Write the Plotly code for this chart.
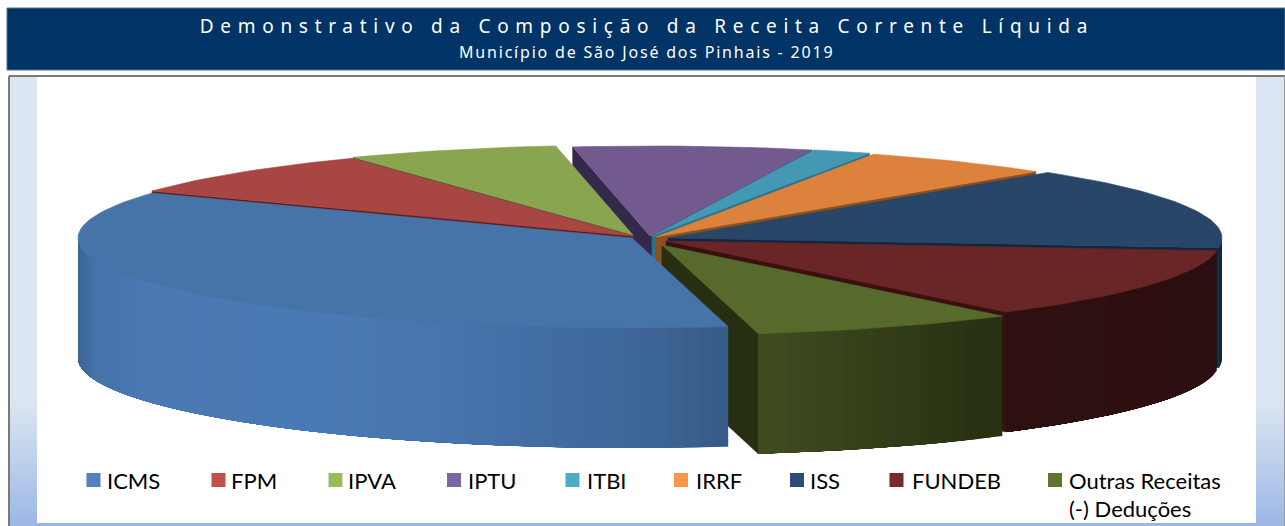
import math
import plotly.graph_objects as go

# ---- data (share of revenue, %) ----
categories = ["ICMS", "FPM", "IPVA", "IPTU", "ITBI", "IRRF", "ISS", "FUNDEB", "Outras Receitas", "(-) Deduções"]
shares = [36.1, 8.25, 6.2, 6.95, 1.7, 5.6, 14.7, 12.75, 7.75, 0.0]

title_main = "Demonstrativo da Composição da Receita Corrente Líquida"
title_sub = "Município de São José dos Pinhais - 2019"

# ---- styles ----
START_ANGLE = 170.0
RX, RY, DEPTH = 554.0, 90.0, 120.0
apex = {"ICMS": (632, 238), "FPM": (632, 236), "IPVA": (633, 235), "IPTU": (650, 236), "ITBI": (652, 236),
        "IRRF": (656, 237), "ISS": (668, 238), "FUNDEB": (666, 241), "Outras Receitas": (662, 245)}
top_col = {"ICMS": "#4673a8", "FPM": "#a84644", "IPVA": "#8aa550", "IPTU": "#735a8e", "ITBI": "#4398b3",
           "IRRF": "#dd823c", "ISS": "#274668", "FUNDEB": "#6a2626", "Outras Receitas": "#566a2b"}
edge_col = {"ICMS": "#33557f", "FPM": "#591d1b", "IPVA": "#46582a", "IPTU": "#34294a", "ITBI": "#2a7189",
            "IRRF": "#8a501e", "ISS": "#11263f", "FUNDEB": "#3a0f10", "Outras Receitas": "#262f11"}
wall_stops = {
    "ICMS": [(78, "#3c6595"), (95, "#4572a9"), (150, "#4a79b4"), (330, "#4a7ab5"), (480, "#4572aa"),
             (620, "#3f689b"), (729, "#365a86")],
    "Outras Receitas": [(758, "#404d20"), (880, "#333e19"), (1003, "#262f11")],
    "FUNDEB": [(1003, "#2e1010"), (1220, "#2c0f10")],
    "ISS": [(1200, "#11263f"), (1225, "#11263f")],
}
swatch_col = ["#4f81bd", "#c0504d", "#9bbb59", "#8064a2", "#4bacc6", "#f79646", "#2c4d75", "#772c2a", "#5f7530", None]
legend_swatch_x = [93.5, 218.5, 335.5, 454, 572.5, 681, 797, 896.5, 1055, None]
legend_text_x = [108, 232, 349, 469, 588, 697, 811, 913, 1070, 1070]
legend_y = [480, 480, 480, 480, 480, 480, 480, 480, 480, 508]
paint_order = ["IPTU", "ITBI", "IRRF", "IPVA", "FPM", "ISS", "FUNDEB", "Outras Receitas", "ICMS"]


def hex2rgb(h):
    return tuple(int(h[i:i + 2], 16) for i in (1, 3, 5))


def wall_colour(name, x):
    stops = wall_stops[name]
    if x <= stops[0][0]:
        return stops[0][1]
    for (x0, c0), (x1, c1) in zip(stops, stops[1:]):
        if x <= x1:
            t = (x - x0) / (x1 - x0)
            a, b = hex2rgb(c0), hex2rgb(c1)
            return "#%02x%02x%02x" % tuple(round(a[i] + (b[i] - a[i]) * t) for i in range(3))
    return stops[-1][1]


def rim(name, deg):
    ax, ay = apex[name]
    r = math.radians(deg)
    return ax + RX * math.sin(r), ay - RY * math.cos(r)


def poly(xs, ys, colour, lw=0.6):
    return go.Scatter(x=list(xs) + [xs[0]], y=list(ys) + [ys[0]], mode="lines", fill="toself", fillcolor=colour,
                      line=dict(color=colour, width=lw), hoverinfo="skip", showlegend=False)


# angular extents derived from the values (normalised so each slice starts below 360 degrees)
spans = {}
a = START_ANGLE
for n, v in zip(categories, shares):
    s0 = a % 360.0
    spans[n] = (s0, s0 + v * 3.6)
    a += v * 3.6

traces = []
for n in paint_order:
    s, e = spans[n]
    ax, ay = apex[n]
    # radial side walls facing the viewer
    if math.sin(math.radians(s)) < 0:
        x, y = rim(n, s)
        traces.append(poly([ax, x, x, ax], [ay, y, y + DEPTH, ay + DEPTH], edge_col[n]))
    if math.sin(math.radians(e)) > 0:
        x, y = rim(n, e)
        traces.append(poly([ax, x, x, ax], [ay, y, y + DEPTH, ay + DEPTH], edge_col[n]))
    # curved outer wall, split into shaded strips that overlap so no seams show
    lo, hi = max(s, 90.0), min(e, 270.0)
    if n in wall_stops and hi > lo:
        steps = max(2, int((hi - lo) / 1.5))
        for i in range(steps):
            d0 = lo + (hi - lo) * i / steps
            d1 = lo + (hi - lo) * (i + 1) / steps
            x_mid = rim(n, (d0 + d1) / 2)[0]
            d2 = hi  # each strip reaches the far end; later strips paint over it
            arc = [rim(n, d0 + (d2 - d0) * k / 12) for k in range(13)]
            xs = [p[0] for p in arc] + [p[0] for p in reversed(arc)]
            ys = [p[1] for p in arc] + [p[1] + DEPTH for p in reversed(arc)]
            traces.append(poly(xs, ys, wall_colour(n, x_mid), lw=0))
    # top face
    steps = max(2, int((e - s) / 1.5))
    pts = [rim(n, s + (e - s) * i / steps) for i in range(steps + 1)]
    traces.append(poly([ax] + [p[0] for p in pts], [ay] + [p[1] for p in pts], top_col[n]))

# legend swatches
sw = [(x, y, c) for x, y, c in zip(legend_swatch_x, legend_y, swatch_col) if c]
traces.append(go.Scatter(x=[p[0] for p in sw], y=[p[1] for p in sw], mode="markers",
                         marker=dict(symbol="square", size=14, color=[p[2] for p in sw], line=dict(width=0)),
                         hoverinfo="skip", showlegend=False))

fig = go.Figure(traces)

# frame, side bands and header
shapes = [
    dict(type="rect", x0=7, x1=1285, y0=8, y1=70, fillcolor="#003366", line=dict(color="#4f7396", width=1)),
    dict(type="rect", x0=9, x1=1285, y0=76, y1=526, fillcolor="#ffffff", line=dict(width=0)),
]
for x0, x1 in ((10, 37), (1256, 1284)):
    shapes.append(dict(type="rect", x0=x0, x1=x1, y0=77, y1=400, fillcolor="#dce6f2", line=dict(width=0)))
    for y in range(400, 526, 3):
        t = (y - 400) / 126
        c = tuple(round(p + (q - p) * t) for p, q in zip((0xdc, 0xe6, 0xf2), (0x9b, 0xb7, 0xe5)))
        shapes.append(dict(type="rect", x0=x0, x1=x1, y0=y, y1=y + 3, fillcolor="#%02x%02x%02x" % c, line=dict(width=0)))
shapes += [
    dict(type="rect", x0=37, x1=1256, y0=523, y1=526, fillcolor="#9bb7e5", line=dict(width=0)),
    dict(type="line", x0=9, x1=1285, y0=76, y1=76, line=dict(color="#7a7a7a", width=2)),
    dict(type="line", x0=9, x1=9, y0=76, y1=526, line=dict(color="#7a7a7a", width=2)),
    dict(type="line", x0=1284.5, x1=1284.5, y0=76, y1=526, line=dict(color="#9a9a9a", width=1)),
]
for s_ in shapes:
    s_["layer"] = "below"

annotations = [
    dict(x=646.5, y=26, text=title_main, showarrow=False, xanchor="center", yanchor="middle",
         font=dict(family="Noto Sans", size=19, color="#ffffff")),
    dict(x=646, y=52, text=title_sub, showarrow=False, xanchor="center", yanchor="middle",
         font=dict(family="Noto Sans", size=16, color="#ffffff")),
]
for n, x, y in zip(categories, legend_text_x, legend_y):
    annotations.append(dict(x=x, y=y, text=n, showarrow=False, xanchor="left", yanchor="middle", xshift=-3,
                            font=dict(family="Lato", size=22, color="#000000")))

fig.update_layout(
    width=1285, height=526, margin=dict(l=0, r=0, t=0, b=0),
    paper_bgcolor="#ffffff", plot_bgcolor="#ffffff", showlegend=False,
    xaxis=dict(range=[0, 1285], visible=False, fixedrange=True),
    yaxis=dict(range=[526, 0], visible=False, fixedrange=True),
    shapes=shapes, annotations=annotations,
)

post = """
document.body.style.margin = '0';
document.body.style.overflow = 'hidden';
document.querySelectorAll('.annotation-text').forEach(function (t) {
  if (t.textContent.indexOf('Demonstrativo') === 0) { t.style.letterSpacing = '6.7px'; }
  if (t.textContent.indexOf('Município') === 0) { t.style.letterSpacing = '1.8px'; }
});
"""
fig.write_html("out.html", post_script=post, config=dict(displayModeBar=False))
